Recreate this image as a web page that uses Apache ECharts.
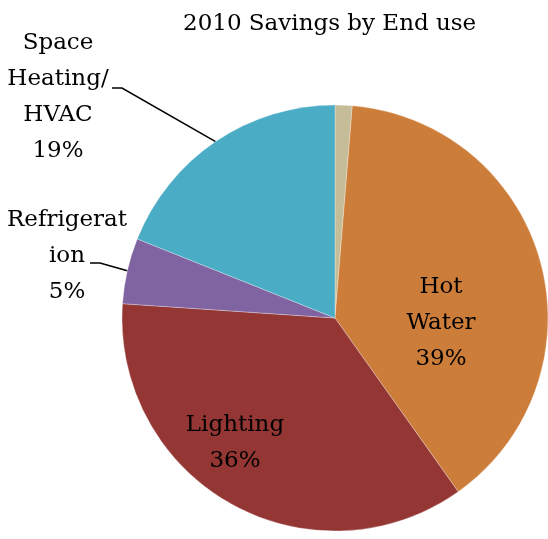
<!DOCTYPE html>
<html>
<head>
<meta charset="utf-8">
<script src="https://cdn.jsdelivr.net/npm/echarts@6/dist/echarts.min.js"></script>
<style>
  html, body { margin: 0; padding: 0; background: #fff; }
  #chart { width: 548px; height: 539px; }
</style>
</head>
<body>
<div id="chart"></div>
<script>
// 2010 savings share by end use (percent)
const categories = ['Other', 'Hot Water', 'Lighting', 'Refrigeration', 'Space Heating/HVAC'];
const values = [1.3, 39, 36, 5, 19];
const labelLines = [null, ['Hot', 'Water'], ['Lighting'], ['Refrigerat', 'ion'], ['Space', 'Heating/', 'HVAC']];
const colors = ['#C4BD97', '#CD7D3A', '#943634', '#8064A2', '#4BACC6'];

// Label anchor placement (label centre) and whether it sits outside with a leader line
const labelPlace = [
  null,
  { x: 441, y: 323, outside: false },
  { x: 235, y: 443, outside: false },
  { x: 67, y: 256, outside: true, elbow: [100, 263], end: [90, 263] },
  { x: 58, y: 97, outside: true, elbow: [122, 88], end: [112, 88] }
];

const FONT = '"DejaVu Serif", serif';

const chart = echarts.init(document.getElementById('chart'), null, { renderer: 'canvas' });

chart.setOption({
  animation: false,
  title: {
    text: '2010 Savings by End use',
    left: 178,
    top: 8,
    textStyle: { fontFamily: FONT, fontSize: 23, fontWeight: 'normal', color: '#000' }
  },
  series: [{
    type: 'pie',
    center: [335, 318],
    radius: 213,
    startAngle: 90,
    clockwise: true,
    avoidLabelOverlap: false,
    data: categories.map((name, i) => ({
      name,
      value: values[i],
      itemStyle: { color: colors[i] },
      label: { show: i > 0, position: labelPlace[i] && labelPlace[i].outside ? 'outside' : 'inside' },
      labelLine: { show: !!(labelPlace[i] && labelPlace[i].outside) }
    })),
    itemStyle: { borderColor: 'rgba(255,255,255,0.5)', borderWidth: 0.6 },
    label: {
      fontFamily: FONT,
      fontSize: 23,
      lineHeight: 36,
      color: '#000',
      align: 'center',
      formatter: p => {
        const lines = labelLines[p.dataIndex] || [];
        return lines.concat([Math.round(p.value) + '%']).join('\n');
      }
    },
    labelLine: {
      lineStyle: { color: '#000', width: 1.5 },
      length: 20,
      length2: 10
    },
    labelLayout: params => {
      const place = labelPlace[params.dataIndex];
      if (!place) return {};
      const out = { x: place.x, y: place.y, align: 'center', verticalAlign: 'middle' };
      if (place.outside && params.labelLinePoints) {
        out.labelLinePoints = [params.labelLinePoints[0], place.elbow, place.end];
      }
      return out;
    }
  }]
});
</script>
</body>
</html>
